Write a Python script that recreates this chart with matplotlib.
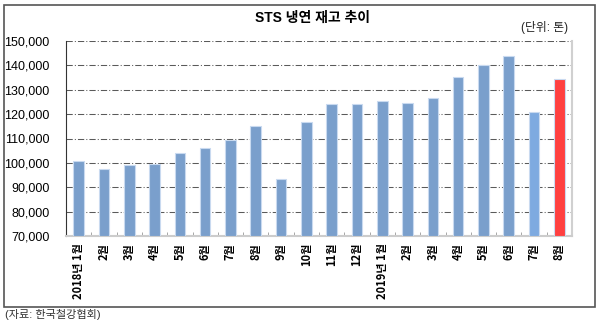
import matplotlib
matplotlib.use("Agg")
import matplotlib.pyplot as plt
from matplotlib import ticker
from matplotlib.patches import Rectangle
import numpy as np

months = ["2018년 1월", "2월", "3월", "4월", "5월", "6월", "7월", "8월", "9월", "10월",
          "11월", "12월", "2019년 1월", "2월", "3월", "4월", "5월", "6월", "7월", "8월"]
stock = [100700, 97300, 99200, 99700, 103900, 105900, 109200, 115000, 93300, 116800,
         124100, 124100, 125500, 124400, 126600, 135400, 140300, 143700, 120900, 134300]
bar_colors = ["#7A9FCC"] * 18 + ["#7EAAE0", "#FF4040"]
y_ticks = [70000, 80000, 90000, 100000, 110000, 120000, 130000, 140000, 150000]

plt.rcParams["font.family"] = ["Liberation Sans", "Noto Sans CJK KR"]

fig = plt.figure(figsize=(6, 3.22), dpi=100)
ax = fig.add_axes([66 / 600, 1 - 236 / 322, (572 - 66) / 600, (236 - 41) / 322])

x = np.arange(len(stock))
ax.bar(x, np.array(stock) - 70000, bottom=70000, width=0.42,
       color=bar_colors, edgecolor="#C9DAF0", linewidth=0.8, zorder=3)

ax.set_ylim(70000, 150000)
ax.set_xlim(-0.5, len(stock) - 0.5)
ax.set_yticks(y_ticks)
ax.yaxis.set_major_formatter(ticker.StrMethodFormatter("{x:,.0f}"))
ax.grid(axis="y", color="#5A5A5A", linestyle=(0, (6, 2, 1, 2)), linewidth=0.75, zorder=1)

ax.set_xticks(x)
ax.set_xticklabels(months, rotation=90, va="top", ha="center",
                   family=["Noto Sans CJK KR"], fontsize=8, fontweight="bold")
ax.xaxis.set_minor_locator(ticker.FixedLocator(np.arange(0.5, len(stock) - 0.5, 1)))
ax.tick_params(axis="x", which="major", length=0, pad=5)
ax.tick_params(axis="x", which="minor", direction="in", length=3, color="#999999")
ax.tick_params(axis="y", length=0, pad=12, labelsize=9)

ax.spines["top"].set_visible(False)
ax.spines["left"].set_color("#333333")
ax.spines["bottom"].set_color("#CCCCCC")
ax.spines["bottom"].set_linewidth(1.5)
ax.spines["right"].set_color("#D0D0D0")
ax.spines["right"].set_linewidth(1.5)

fig.text(313 / 600, 1 - 18 / 322, "STS 냉연 재고 추이", ha="center", va="center",
         fontsize=10, fontweight="bold")
fig.text(568 / 600, 1 - 28 / 322, "(단위: 톤)", ha="right", va="center",
         fontsize=8.5, color="#222222")
fig.text(5 / 600, 1 - 314 / 322, "(자료: 한국철강협회)", ha="left", va="center",
         fontsize=8, color="#333333")

fig.patches.append(Rectangle((4 / 600, 1 - 307 / 322), 591 / 600, 302 / 322,
                             transform=fig.transFigure, fill=False,
                             edgecolor="#555555", linewidth=1.2))

fig.savefig("out.png", dpi=100)
plt.close(fig)
